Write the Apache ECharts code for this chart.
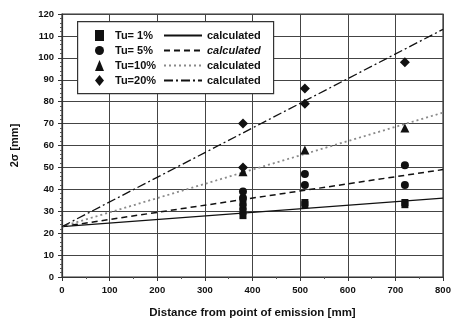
<!DOCTYPE html>
<html><head><meta charset="utf-8">
<script src="https://cdn.jsdelivr.net/npm/echarts@6/dist/echarts.min.js"></script>
<style>html,body{margin:0;padding:0;background:#fff}#c{width:460px;height:324px}</style>
</head><body><div id="c"></div>
<script>
// ---- data ----
var xRange = [0, 800];
var tu1 = [[380,34],[380,32],[380,30],[380,28],[510,34],[510,33],[720,34],[720,33]];
var tu5 = [[380,39],[380,36],[510,47],[510,42],[720,51],[720,42]];
var tu10 = [[380,48],[510,58],[720,68]];
var tu20 = [[380,70],[380,50],[510,86],[510,79],[720,98]];
var calc1 = [23, 36];
var calc5 = [23, 49];
var calc10 = [23, 75];
var calc20 = [23, 113];
var seriesNames = ['Tu= 1%', 'Tu= 5%', 'Tu=10%', 'Tu=20%'];
var calcNames = ['calculated', 'calculated ', 'calculated  ', 'calculated   '];

function linePts(v){ return [[xRange[0], v[0]], [xRange[1], v[1]]]; }
var ink = '#111';
var font = 'Liberation Sans, Arial, sans-serif';

var chart = echarts.init(document.getElementById('c'), null, {renderer:'canvas'});
var lineStyles = [
  {type:'solid', color:ink, width:1.2},
  {type:[6,4], color:ink, width:1.5},
  {type:[2,3], color:'#8a8a8a', width:1.8},
  {type:[9,3,2,3], color:ink, width:1.3}
];
var calcs = [calc1, calc5, calc10, calc20];
var pts = [tu1, tu5, tu10, tu20];
var syms = ['rect', 'circle', 'triangle', 'diamond'];
var sizes = [7, 8, 9, 10];
var series = [];
calcs.forEach(function(c, i){
  series.push({name: calcNames[i], type:'line', data: linePts(c), symbol:'none', silent:true,
    lineStyle: lineStyles[i], itemStyle:{color: lineStyles[i].color}, z:2});
});
pts.forEach(function(p, i){
  series.push({name: seriesNames[i], type:'scatter', data:p, symbol:syms[i], symbolSize:sizes[i],
    itemStyle:{color:ink, opacity:1}, z:3});
});

chart.setOption({
  animation:false,
  backgroundColor:'#fff',
  grid:{left:62, right:17, top:14, bottom:46, show:true, borderColor:'#333', borderWidth:1.2},
  xAxis:{type:'value', min:0, max:800, interval:100,
    name:'Distance from point of emission [mm]', nameLocation:'middle', nameGap:30,
    nameTextStyle:{fontFamily:font, fontWeight:'bold', fontSize:11.5, color:ink},
    axisLine:{lineStyle:{color:'#333', width:1.2}},
    axisTick:{show:true, length:4, inside:false, lineStyle:{color:'#333'}},
    minorTick:{show:true, splitNumber:2, length:2, lineStyle:{color:'#555'}},
    axisLabel:{fontFamily:font, fontWeight:'bold', fontSize:9.5, color:ink, margin:8},
    splitLine:{lineStyle:{color:'#444', width:1}}},
  yAxis:{type:'value', min:0, max:120, interval:10,
    name:'2σ [mm]', nameLocation:'middle', nameGap:42, nameRotate:90,
    nameTextStyle:{fontFamily:font, fontWeight:'bold', fontSize:11, color:ink},
    axisLine:{show:true, lineStyle:{color:'#333', width:1.2}},
    axisTick:{show:true, length:4, lineStyle:{color:'#333'}},
    minorTick:{show:true, splitNumber:5, length:2, lineStyle:{color:'#555'}},
    axisLabel:{fontFamily:font, fontWeight:'bold', fontSize:9.5, color:ink, margin:8},
    splitLine:{lineStyle:{color:'#444', width:1}}},
  graphic:[{type:'rect', left:77, top:21, shape:{width:196, height:72}, z:50,
    style:{fill:'#fff', stroke:'#333', lineWidth:1.2}}],
  legend:[
    {data: seriesNames, orient:'vertical', left:90, top:25, itemGap:4, itemWidth:9, itemHeight:11, z:60,
      itemStyle:{opacity:1},
      textStyle:{fontFamily:font, fontWeight:'bold', fontSize:11, color:ink, padding:[0,0,0,6]}},
    {data: calcNames, orient:'vertical', left:158, top:25, itemGap:4, itemWidth:38, itemHeight:11, z:60,
      itemStyle:{opacity:0},
      formatter:function(n){ return n === calcNames[1] ? '{i|calculated}' : 'calculated'; },
      textStyle:{fontFamily:font, fontWeight:'bold', fontSize:11, color:ink, padding:[0,0,0,0],
        rich:{i:{fontFamily:font, fontWeight:'bold', fontStyle:'italic', fontSize:11, color:ink}}}}
  ],
  series: series
});
</script></body></html>
